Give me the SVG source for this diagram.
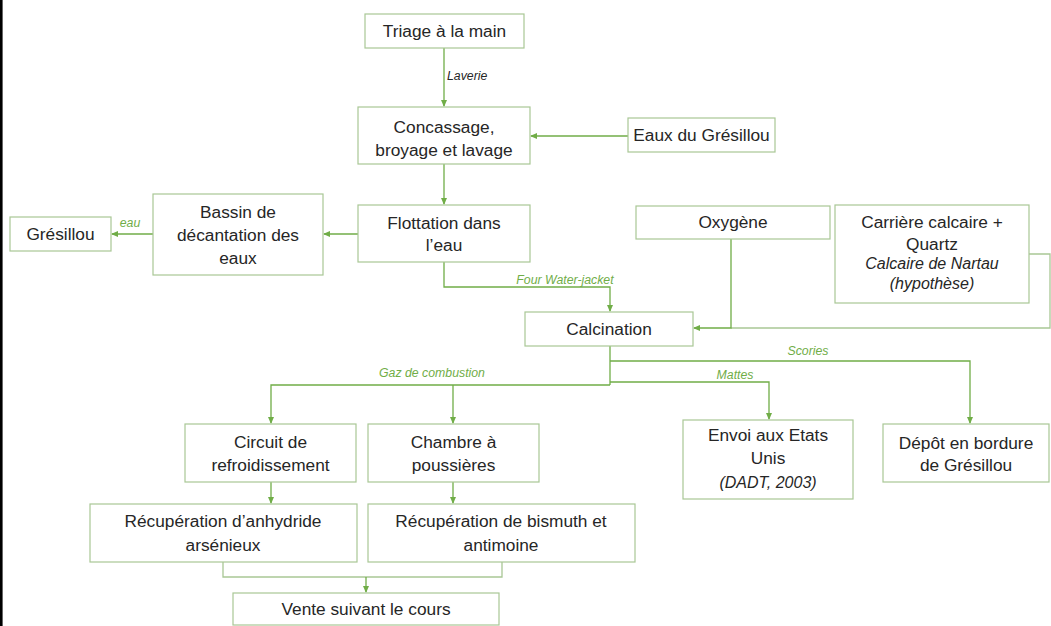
<svg xmlns="http://www.w3.org/2000/svg" width="1051" height="626" viewBox="0 0 1051 626">
<style>
.box{fill:#ffffff;stroke:#a9c795;stroke-width:1.2}
.t{font-family:"Liberation Sans",Arial,sans-serif;font-size:17.3px;fill:#262626;text-anchor:middle}
.ti{font-family:"Liberation Sans",Arial,sans-serif;font-size:16px;font-style:italic;fill:#262626;text-anchor:middle}
.lbl{font-family:"Liberation Sans",Arial,sans-serif;font-size:12.3px;font-style:italic;fill:#70ad47;text-anchor:middle}
.lbld{font-family:"Liberation Sans",Arial,sans-serif;font-size:12.3px;font-style:italic;fill:#262626;text-anchor:start}
.c{fill:none;stroke:#70ad47;stroke-width:1.3}
.cp{fill:none;stroke:#a9c795;stroke-width:1.3}
.a{marker-end:url(#ah)}
</style>
<defs>
<marker id="ah" markerWidth="7" markerHeight="6" refX="6" refY="3" orient="auto" markerUnits="userSpaceOnUse">
<path d="M0,0 L7,3 L0,6 Z" fill="#70ad47"/>
</marker>
</defs>
<rect width="1051" height="626" fill="#ffffff"/>
<line x1="1.3" y1="0" x2="1.3" y2="626" stroke="#000000" stroke-width="2.6"/>
<g id="connectors">
<path class="c a" d="M444,48 V106"/>
<path class="c a" d="M628,136 H531"/>
<path class="c a" d="M444,164 V204"/>
<path class="c a" d="M358,234 H324"/>
<path class="c a" d="M153,234 H112"/>
<path class="c a" d="M444,262 V287 H610 V311"/>
<path class="cp" d="M1029,254 H1050 V328 H731"/>
<path class="c a" d="M731,239 V328 H694"/>
<path class="c" d="M610,346 V385"/>
<path class="c a" d="M610,385 H271 V423"/>
<path class="c a" d="M453,385 V423"/>
<path class="c a" d="M610,382 H769 V419"/>
<path class="c a" d="M610,361 H970 V423"/>
<path class="c a" d="M271,482 V503"/>
<path class="c a" d="M453,482 V503"/>
<path class="cp" d="M223,562 V577 H502 V562"/>
<path class="c a" d="M366,577 V592"/>
<text class="lbld" x="447" y="80">Laverie</text>
<text class="lbl" x="130" y="227">eau</text>
<text class="lbl" x="565" y="284">Four Water-jacket</text>
<text class="lbl" x="808" y="355">Scories</text>
<text class="lbl" x="432" y="377">Gaz de combustion</text>
<text class="lbl" x="735" y="379">Mattes</text>
</g>
<g id="triage"><rect class="box" x="365" y="14" width="159" height="34"/><text class="t" x="444.5" y="37">Triage à la main</text></g>
<g id="concassage"><rect class="box" x="358" y="107" width="172" height="57"/><text class="t" x="444" y="133">Concassage,</text><text class="t" x="444" y="156">broyage et lavage</text></g>
<g id="eaux"><rect class="box" x="628" y="118" width="147" height="34"/><text class="t" x="701.5" y="141">Eaux du Grésillou</text></g>
<g id="gresillou"><rect class="box" x="10" y="217" width="101" height="34"/><text class="t" x="60.5" y="240">Grésillou</text></g>
<g id="bassin"><rect class="box" x="153" y="194" width="170" height="81"/><text class="t" x="238" y="218">Bassin de</text><text class="t" x="238" y="241">décantation des</text><text class="t" x="238" y="264">eaux</text></g>
<g id="flottation"><rect class="box" x="358" y="205" width="172" height="57"/><text class="t" x="444" y="229">Flottation dans</text><text class="t" x="444" y="251">l’eau</text></g>
<g id="oxygene"><rect class="box" x="636" y="206" width="194" height="33"/><text class="t" x="733" y="228">Oxygène</text></g>
<g id="carriere"><rect class="box" x="835" y="205" width="194" height="98"/><text class="t" x="932" y="228">Carrière calcaire +</text><text class="t" x="932" y="250">Quartz</text><text class="ti" x="932" y="269">Calcaire de Nartau</text><text class="ti" x="932" y="289">(hypothèse)</text></g>
<g id="calcination"><rect class="box" x="525" y="312" width="168" height="34"/><text class="t" x="609" y="335">Calcination</text></g>
<g id="circuit"><rect class="box" x="185" y="424" width="171" height="58"/><text class="t" x="270.5" y="448">Circuit de</text><text class="t" x="270.5" y="471">refroidissement</text></g>
<g id="chambre"><rect class="box" x="368" y="424" width="171" height="58"/><text class="t" x="453.5" y="448">Chambre à</text><text class="t" x="453.5" y="471">poussières</text></g>
<g id="envoi"><rect class="box" x="683" y="420" width="170" height="79"/><text class="t" x="768" y="441">Envoi aux Etats</text><text class="t" x="768" y="464">Unis</text><text class="ti" x="768" y="488">(DADT, 2003)</text></g>
<g id="depot"><rect class="box" x="883" y="424" width="166" height="58"/><text class="t" x="966" y="449">Dépôt en bordure</text><text class="t" x="966" y="471">de Grésillou</text></g>
<g id="recup-arsenic"><rect class="box" x="90" y="504" width="267" height="58"/><text class="t" x="223" y="527">Récupération d’anhydride</text><text class="t" x="223" y="551">arsénieux</text></g>
<g id="recup-bismuth"><rect class="box" x="368" y="504" width="267" height="58"/><text class="t" x="501" y="527">Récupération de bismuth et</text><text class="t" x="501" y="551">antimoine</text></g>
<g id="vente"><rect class="box" x="233" y="593" width="266" height="32"/><text class="t" x="366" y="615">Vente suivant le cours</text></g>
</svg>
